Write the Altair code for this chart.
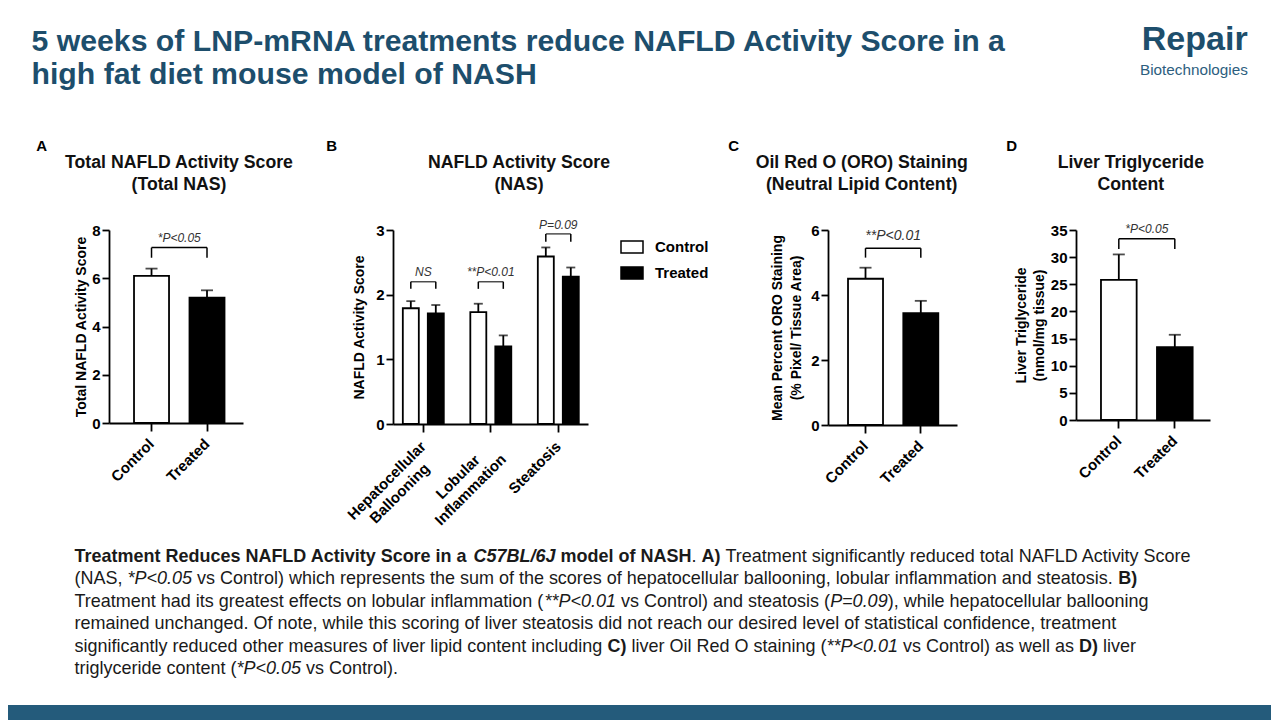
import altair as alt
import pandas as pd

# ---------------- data ----------------
groups = ["Control", "Treated"]

# A) Total NAS
a_mean = [6.1, 5.2]
a_top = [6.4, 5.5]

# B) NAS components
b_cats = ["Hepatocellular\nBallooning", "Lobular\nInflammation", "Steatosis"]
b_ctrl_mean = [1.79, 1.73, 2.59]
b_ctrl_top = [1.90, 1.86, 2.73]
b_trt_mean = [1.71, 1.20, 2.28]
b_trt_top = [1.84, 1.37, 2.42]

# C) ORO staining
c_mean = [4.50, 3.44]
c_top = [4.84, 3.82]

# D) Liver triglyceride
d_mean = [25.8, 13.4]
d_top = [30.5, 15.7]

# significance annotations: (label, bracket y, leg bottom y, label baseline y)
a_sig = ("*P<0.05", 7.27, 6.85, 7.5)
b_sig_labels = ["NS", "**P<0.01", "P=0.09"]
b_sig_bracket = [2.20, 2.20, 2.94]
b_sig_leg = [2.09, 2.09, 2.82]
b_sig_text = [2.29, 2.29, 3.02]
c_sig = ("**P<0.01", 5.44, 5.15, 5.69)
d_sig = ("*P<0.05", 33.4, 31.5, 34.5)

title_lines = ["5 weeks of LNP-mRNA treatments reduce NAFLD Activity Score in a",
               "high fat diet mouse model of NASH"]
panel_letters = ["A", "B", "C", "D"]
panel_titles = [["Total NAFLD Activity Score", "(Total NAS)"],
                ["NAFLD Activity Score", "(NAS)"],
                ["Oil Red O (ORO) Staining", "(Neutral Lipid Content)"],
                ["Liver Triglyceride", "Content"]]
y_titles = ["Total NAFLD Activity Score", "NAFLD Activity Score",
            ["Mean Percent ORO Staining", "(% Pixel/ Tissue Area)"],
            ["Liver Triglyceride", "(nmol/mg tissue)"]]

caption_lines = [
    [("Treatment Reduces NAFLD Activity Score in a ", "b"), ("C57BL/6J", "bi"), (" model of NASH", "b"),
     (". ", "r"), ("A)", "b"), (" Treatment significantly reduced total NAFLD Activity Score", "r")],
    [("(NAS, ", "r"), ("*P<0.05", "i"),
     (" vs Control) which represents the sum of the scores of hepatocellular ballooning, lobular inflammation and steatosis. ", "r"),
     ("B)", "b")],
    [("Treatment had its greatest effects on lobular inflammation (", "r"), ("**P<0.01", "i"),
     (" vs Control) and steatosis (", "r"), ("P=0.09", "i"), ("), while hepatocellular ballooning", "r")],
    [("remained unchanged. Of note, while this scoring of liver steatosis did not reach our desired level of statistical confidence, treatment", "r")],
    [("significantly reduced other measures of liver lipid content including ", "r"), ("C)", "b"),
     (" liver Oil Red O staining (", "r"), ("**P<0.01", "i"), (" vs Control) as well as ", "r"), ("D)", "b"), (" liver", "r")],
    [("triglyceride content (", "r"), ("*P<0.05", "i"), (" vs Control).", "r")],
]

# ---------------- text metrics (Liberation Sans = Arial metrics) ----------------
REG = [278,278,355,556,556,889,667,191,333,333,389,584,278,333,278,278,
       556,556,556,556,556,556,556,556,556,556,278,278,584,584,584,556,
       1015,667,667,722,722,667,611,778,722,278,500,667,556,833,722,778,
       667,778,722,667,611,722,667,944,667,667,611,278,278,278,469,556,
       333,556,556,500,556,556,278,556,556,222,222,500,222,833,556,556,
       556,556,333,500,278,556,500,722,500,500,500,334,260,334,584]
BOLD = [278,333,474,556,556,889,722,238,333,333,389,584,278,333,278,278,
        556,556,556,556,556,556,556,556,556,556,333,333,584,584,584,611,
        975,722,722,722,722,667,611,778,722,278,556,722,611,833,722,778,
        667,778,722,667,611,722,667,944,667,667,611,333,278,333,584,556,
        333,556,611,556,611,556,333,611,611,278,278,556,278,889,611,611,
        611,611,389,556,333,611,556,778,556,556,500,389,280,389,584]


def em(s, bold=False):
    t = BOLD if bold else REG
    return sum(t[ord(ch) - 32] if 32 <= ord(ch) <= 126 else 556 for ch in s) / 1000.0


FONT = "Liberation Sans"
TITLE_COLOR = "#1d4e6c"
BAR_COLOR = "#245b7b"
PAGE_W = 1263
ROW_TOP = 230   # page y of the panels' plot top
ORIG_X = 8      # page x of the chart origin
LW = 1.8


def px(x):
    return x - ORIG_X


def py(y):
    return y - ROW_TOP


def text_layer(rows, weight="normal", style="normal", align="left"):
    df = pd.DataFrame(rows)
    return alt.Chart(df).mark_text(font=FONT, fontWeight=weight, fontStyle=style,
                                   align=align, baseline="alphabetic").encode(
        x=alt.X("x:Q", scale=None),
        y=alt.Y("y:Q", scale=None),
        text="t:N",
        size=alt.Size("s:Q", scale=None, legend=None),
        color=alt.Color("c:N", scale=None, legend=None),
    )


# ---------------- slide texts (header + caption) ----------------
title_size = 976 / em(title_lines[0], True)
ptitle_size = 230 / em(panel_titles[0][0], True)
letter_x = [36.2, 326.2, 728.3, 1006.2]
ptitle_x = [179, 519, 861.7, 1130.8]

bold_left = [
    {"x": px(31.5), "y": py(50.7), "t": title_lines[0], "s": title_size, "c": TITLE_COLOR},
    {"x": px(31.5), "y": py(84.3), "t": title_lines[1], "s": title_size, "c": TITLE_COLOR},
    {"x": px(1141.7), "y": py(50), "t": "Repair", "s": 106 / em("Repair", True), "c": TITLE_COLOR},
]
for lx, lt in zip(letter_x, panel_letters):
    bold_left.append({"x": px(lx), "y": py(151), "t": lt, "s": 15, "c": "#000000"})
reg_left = [{"x": px(1140), "y": py(75), "t": "Biotechnologies", "s": 108 / em("Biotechnologies"), "c": "#2d5e7e"}]
bold_center = []
for cx, lines in zip(ptitle_x, panel_titles):
    bold_center.append({"x": px(cx), "y": py(167.7), "t": lines[0], "s": ptitle_size, "c": "#111111"})
    bold_center.append({"x": px(cx), "y": py(190), "t": lines[1], "s": ptitle_size, "c": "#111111"})

cap_size = 1118 / sum(em(t, st.startswith("b")) for t, st in caption_lines[0])
cap_x0 = 74.5
cap_y0 = 562
cap_lh = 22.4
rows_by_style = {"b": [], "bi": [], "r": [], "i": []}
for li, line in enumerate(caption_lines):
    x = cap_x0
    for text, st in line:
        bold = st.startswith("b")
        lead = len(text) - len(text.lstrip(" "))
        t = text.strip(" ")
        if t:
            rows_by_style[st].append({"x": px(x + em(" " * lead, bold) * cap_size),
                                      "y": py(cap_y0 + li * cap_lh), "t": t, "s": cap_size, "c": "#1a1a1a"})
        x += em(text, bold) * cap_size

one = pd.DataFrame({"z": [0]})
background = alt.Chart(one).mark_rect(color="white").encode(
    x=alt.value(px(8)), x2=alt.value(px(8) + PAGE_W), y=alt.value(py(8)), y2=alt.value(py(720)))
bar_band = alt.Chart(one).mark_rect(color=BAR_COLOR).encode(
    x=alt.value(px(8)), x2=alt.value(px(8) + PAGE_W), y=alt.value(py(705)), y2=alt.value(py(720)))

slide = alt.layer(
    background,
    text_layer(bold_left, "bold"),
    text_layer(reg_left),
    text_layer(bold_center, "bold", align="center"),
    text_layer(rows_by_style["r"]),
    text_layer(rows_by_style["i"], style="italic"),
    text_layer(rows_by_style["b"], "bold"),
    text_layer(rows_by_style["bi"], "bold", "italic"),
    bar_band,
).properties(width=101, height=195)

# ---------------- panels ----------------
AX = dict(domainColor="black", domainWidth=LW, tickColor="black", tickWidth=LW, grid=False,
          labelFont=FONT, labelFontWeight="bold", labelColor="black")


def y_axis(values, title, tx, h, lh):
    return alt.Axis(values=values, tickCount=len(values), format="d", labelOverlap=False,
                    title=title, titleX=tx, titleY=h / 2,
                    titleAngle=270, titleAlign="center", titleBaseline="middle", titleLineHeight=lh,
                    titleFont=FONT, titleFontSize=14, titleFontWeight="bold", titleColor="black",
                    labelFontSize=15, labelPadding=2, tickSize=7, **AX)


def x_axis(labels=True):
    return alt.Axis(title=None, labels=labels, labelAngle=315, labelAlign="right", labelBaseline="middle",
                    labelFontSize=15, labelPadding=10, tickSize=8, labelOverlap=False, **AX)


fill_scale = alt.Scale(domain=groups, range=["white", "black"])


def simple_panel(mean, top, sig, ydom, yvals, ytitle, tx, lh, w, h, pi, po, al, dx):
    df = pd.DataFrame({"g": groups, "mean": mean, "top": top})
    xs = alt.Scale(domain=groups, paddingInner=pi, paddingOuter=po, align=al)
    ys = alt.Scale(domain=ydom, nice=False, zero=True)
    base = alt.Chart(df)
    bars = base.mark_bar(stroke="black", strokeWidth=LW).encode(
        x=alt.X("g:N", scale=xs, sort=groups, axis=x_axis()),
        y=alt.Y("mean:Q", scale=ys, axis=y_axis(yvals, ytitle, tx, h, lh)),
        fill=alt.Fill("g:N", scale=fill_scale, legend=None),
    )
    err = base.mark_rule(color="black", strokeWidth=LW).encode(x="g:N", y="mean:Q", y2="top:Q")
    cap = base.mark_tick(color="black", thickness=LW, size=12, orient="horizontal").encode(
        x="g:N", y="top:Q")
    label, brk, leg, ty = sig
    legs = alt.Chart(pd.DataFrame({"g": groups, "lo": [leg, leg], "hi": [brk, brk]})).mark_rule(
        color="black", strokeWidth=1.5).encode(x="g:N", y="lo:Q", y2="hi:Q")
    hbar = alt.Chart(pd.DataFrame({"g": [groups[0]], "g2": [groups[1]], "lo": [brk]})).mark_rule(
        color="black", strokeWidth=1.5).encode(
        x=alt.X("g:N", bandPosition=0.5), x2=alt.X2("g2:N", bandPosition=0.5), y="lo:Q")
    txt = alt.Chart(pd.DataFrame({"g": [groups[0]], "lo": [ty], "t": [label]})).mark_text(
        dx=dx, font=FONT, fontStyle="italic", fontSize=12 if len(label) < 8 else 14, color="#333333",
        align="center", baseline="alphabetic").encode(x="g:N", y="lo:Q", text="t:N")
    return alt.layer(bars, err, cap, legs, hbar, txt).properties(width=w, height=h)


panel_a = simple_panel(a_mean, a_top, a_sig, [0, 8], [0, 2, 4, 6, 8], y_titles[0], -27.3, 14,
                       134, 193, 0.369, 0.392, 0.575, 27.75)
panel_c = simple_panel(c_mean, c_top, c_sig, [0, 6], [0, 2, 4, 6], y_titles[2], -50.3, 19,
                       129, 195, 0.367, 0.35, 0.517, 27.65)
panel_d = simple_panel(d_mean, d_top, d_sig, [0, 35], [0, 5, 10, 15, 20, 25, 30, 35], y_titles[3], -54.3, 18.3,
                       134, 190, 0.363, 0.378, 0.59, 28)

# panel B
bw, bh = 195, 194
b_rows = []
for i, cname in enumerate(b_cats):
    b_rows.append({"cat": cname, "s": groups[0], "mean": b_ctrl_mean[i], "top": b_ctrl_top[i]})
    b_rows.append({"cat": cname, "s": groups[1], "mean": b_trt_mean[i], "top": b_trt_top[i]})
bdf = pd.DataFrame(b_rows)
bxs = alt.Scale(domain=b_cats, paddingInner=0.393, paddingOuter=0.141, align=0.516)
bxo = alt.Scale(domain=groups, paddingInner=0.36, paddingOuter=0)
bys = alt.Scale(domain=[0, 3], nice=False, zero=True)
bbase = alt.Chart(bdf)
b_bars = bbase.mark_bar(stroke="black", strokeWidth=LW).encode(
    x=alt.X("cat:N", scale=bxs, sort=b_cats, axis=x_axis(labels=False)),
    xOffset=alt.XOffset("s:N", scale=bxo, sort=groups),
    y=alt.Y("mean:Q", scale=bys, axis=y_axis([0, 1, 2, 3], y_titles[1], -33.7, bh, 14)),
    fill=alt.Fill("s:N", scale=fill_scale, legend=alt.Legend(
        title=None, orient="none", legendX=227, legendY=5, direction="vertical",
        symbolType="M-1,-0.55H1V0.55H-1Z", symbolSize=484, symbolStrokeColor="black",
        symbolStrokeWidth=1.5, labelFont=FONT, labelFontSize=15, labelFontWeight="bold",
        labelColor="black", labelOffset=11, rowPadding=4, padding=0)),
)
b_err = bbase.mark_rule(color="black", strokeWidth=LW).encode(
    x="cat:N", xOffset="s:N", y="mean:Q", y2="top:Q")
b_cap = bbase.mark_tick(color="black", thickness=LW, size=9, orient="horizontal").encode(
    x="cat:N", xOffset="s:N", y="top:Q")
sig_df = pd.DataFrame({"cat": b_cats, "mean": b_sig_bracket, "leg": b_sig_leg,
                       "ty": b_sig_text, "t": b_sig_labels})
b_brk = alt.Chart(sig_df).mark_tick(color="black", thickness=1.5, size=25, orient="horizontal").encode(
    x="cat:N", y="mean:Q")
leg_rows = []
for i, cname in enumerate(b_cats):
    for g in groups:
        leg_rows.append({"cat": cname, "s": g, "mean": b_sig_leg[i], "hi": b_sig_bracket[i]})
b_legs = alt.Chart(pd.DataFrame(leg_rows)).mark_rule(color="black", strokeWidth=1.5).encode(
    x="cat:N", xOffset="s:N", y="mean:Q", y2="hi:Q")
b_txt = alt.Chart(sig_df).mark_text(font=FONT, fontStyle="italic", fontSize=12, color="#333333",
                                    align="center", baseline="alphabetic").encode(
    x="cat:N", y="ty:Q", text="t:N")
b_label_layers = []
for cname in b_cats:
    lines = cname.split("\n")
    blk = max(em(l, True) for l in lines) * 15
    b_label_layers.append(
        alt.Chart(pd.DataFrame({"cat": [cname]})).mark_text(
            font=FONT, fontWeight="bold", fontSize=15, color="black", angle=315, align="center",
            baseline="middle", lineBreak="\n", lineHeight=18, dx=-blk / 2).encode(
            x="cat:N", y=alt.value(bh + 20), text="cat:N"))
panel_b = alt.layer(b_bars, b_err, b_cap, b_brk, b_legs, b_txt, *b_label_layers).properties(width=bw, height=bh)


def spacer(w):
    return alt.Chart(one).mark_point(opacity=0).encode(
        x=alt.value(0), y=alt.value(0)).properties(width=w, height=10)


chart = alt.hconcat(slide, panel_a, spacer(150), panel_b, spacer(240), panel_c, spacer(119), panel_d,
                    spacing=0, bounds="flush").resolve_scale(fill="independent").resolve_legend(
    fill="independent").properties(padding=0).configure(
    font=FONT, background="white", view=alt.ViewConfig(stroke=None))

chart.save("out.html", embed_options={"renderer": "svg", "actions": False})
